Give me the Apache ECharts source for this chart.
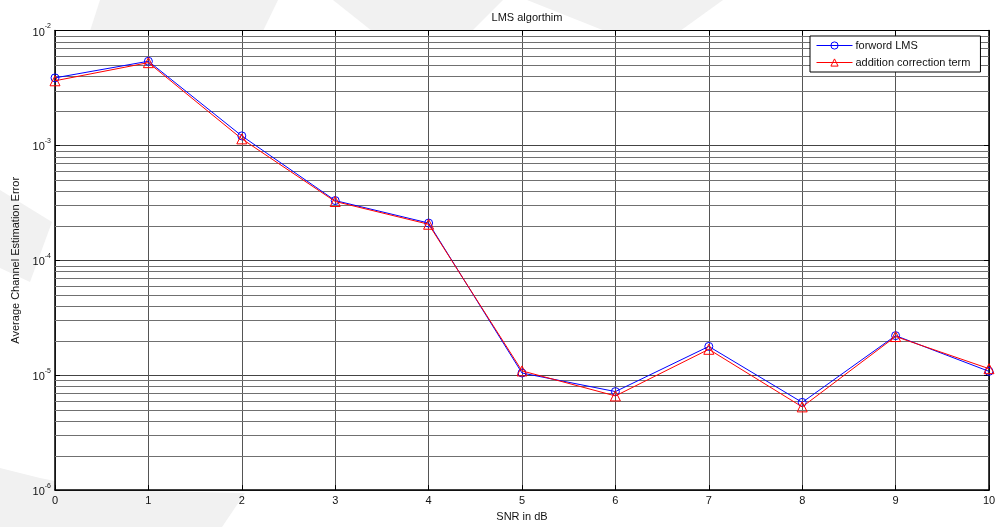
<!DOCTYPE html>
<html>
<head>
<meta charset="utf-8">
<script src="https://cdn.jsdelivr.net/npm/echarts@6/dist/echarts.min.js"></script>
<style>
html,body{margin:0;padding:0;background:#fff;}
#c{width:1003px;height:527px;}
</style>
</head>
<body>
<div id="c"></div>
<script>
// ---- data ----
const snr = [0, 1, 2, 3, 4, 5, 6, 7, 8, 9, 10];
const forwordLMS = [3.87e-3, 5.4e-3, 1.21e-3, 3.31e-4, 2.11e-4, 1.045e-5, 7.2e-6, 1.78e-5, 5.8e-6, 2.21e-5, 1.08e-5];
const additionCorrection = [3.65e-3, 5.25e-3, 1.14e-3, 3.25e-4, 2.06e-4, 1.09e-5, 6.6e-6, 1.68e-5, 5.3e-6, 2.17e-5, 1.14e-5];
const seriesNames = ['forword LMS', 'addition correction term'];
const seriesColors = ['#0000ff', '#ff0000'];
const titleText = 'LMS algorthim';
const xName = 'SNR in dB';
const yName = 'Average Channel Estimation Error';
const yDecades = [-6, -5, -4, -3, -2];
const minorMultipliers = [2, 3, 4, 5, 6, 7, 8, 9];

const FONT = '"Liberation Sans", Arial, Helvetica, sans-serif';
const minorValues = [];
for (let i = 0; i < yDecades.length - 1; i++) {
  for (const m of minorMultipliers) minorValues.push(m * Math.pow(10, yDecades[i]));
}

const chart = echarts.init(document.getElementById('c'), null, {renderer: 'canvas'});
const gray = '#f1f1f1';
const option = {
  backgroundColor: '#fff',
  animation: false,
  textStyle: {fontFamily: FONT},
  title: {
    text: titleText, left: 522, top: 7, textAlign: 'center',
    textStyle: {fontSize: 11, fontWeight: 'normal', color: '#111', fontFamily: FONT}
  },
  graphic: [
    {type: 'polygon', z: -10, silent: true, shape: {points: [[100,0],[278,0],[263,31],[90,31]]}, style: {fill: gray}},
    {type: 'polygon', z: -10, silent: true, shape: {points: [[333,0],[503,0],[472,31],[372,31]]}, style: {fill: gray}},
    {type: 'polygon', z: -10, silent: true, shape: {points: [[527,0],[723,0],[680,31],[605,31]]}, style: {fill: gray}},
    {type: 'polygon', z: -10, silent: true, shape: {points: [[0,190],[52,222],[30,282],[0,268]]}, style: {fill: gray}},
    {type: 'polygon', z: -10, silent: true, shape: {points: [[0,468],[40,478],[100,490],[245,493],[222,527],[0,527]]}, style: {fill: gray}}
  ],
  legend: {
    left: 810, top: 36, orient: 'vertical',
    padding: [4, 10, 4, 6], itemGap: 6,
    itemWidth: 36, itemHeight: 9,
    backgroundColor: '#fff', borderColor: '#000', borderWidth: 1, borderRadius: 0,
    textStyle: {fontSize: 11, color: '#111', fontFamily: FONT, padding: [0,0,0,-2]},
    data: seriesNames.map((n, i) => ({
      name: n,
      itemStyle: {color: 'rgba(255,255,255,0)', borderColor: seriesColors[i], borderWidth: 1},
      lineStyle: {color: seriesColors[i], width: 1}
    }))
  },
  grid: {
    left: 55, right: 14, top: 30.5, bottom: 34,
    show: true, backgroundColor: '#fff', borderWidth: 0, containLabel: false
  },
  xAxis: [{
    type: 'value', min: 0, max: 10, interval: 1, position: 'bottom',
    name: xName, nameLocation: 'middle', nameGap: 18,
    nameTextStyle: {fontSize: 11, color: '#111', fontFamily: FONT},
    axisLine: {show: true, onZero: false, lineStyle: {color: '#000', width: 1.5}},
    axisTick: {show: true, inside: true, length: 5, lineStyle: {color: '#000'}},
    axisLabel: {fontSize: 11, color: '#111', margin: 5, fontFamily: FONT},
    splitLine: {show: true, lineStyle: {color: '#555', width: 1}}
  }, {
    type: 'value', min: 0, max: 10, interval: 1, position: 'top',
    axisLine: {show: true, onZero: false, lineStyle: {color: '#000', width: 1}},
    axisTick: {show: true, inside: true, length: 5, lineStyle: {color: '#000'}},
    axisLabel: {show: false}, splitLine: {show: false}
  }],
  yAxis: [{
    type: 'log', logBase: 10, min: 1e-6, max: 1e-2, position: 'left',
    name: yName, nameLocation: 'middle', nameGap: 33, nameRotate: 90,
    nameTextStyle: {fontSize: 11, color: '#111', fontFamily: FONT},
    axisLine: {show: true, onZero: false, lineStyle: {color: '#000', width: 1.5}},
    axisTick: {show: true, inside: true, length: 5, lineStyle: {color: '#000'}},
    axisLabel: {
      margin: 4, color: '#111',
      formatter: function (v) {
        const e = Math.round(Math.log10(v));
        return '{b|10}{e|' + e + '}';
      },
      rich: {
        b: {fontSize: 11, fontFamily: FONT, color: '#111', verticalAlign: 'bottom'},
        e: {fontSize: 7, fontFamily: FONT, color: '#111', verticalAlign: 'bottom', padding: [0, 0, 8, 0]}
      }
    },
    splitLine: {show: true, lineStyle: {color: '#444', width: 1}}
  }, {
    type: 'log', logBase: 10, min: 1e-6, max: 1e-2, position: 'right',
    axisLine: {show: true, onZero: false, lineStyle: {color: '#000', width: 1.5}},
    axisTick: {show: true, inside: true, length: 5, lineStyle: {color: '#000'}},
    axisLabel: {show: false}, splitLine: {show: false}
  }],
  series: [{
    name: '_minorGrid', type: 'custom', z: 1, silent: true,
    data: minorValues.map(v => [0, v]),
    encode: {x: 0, y: 1},
    renderItem: function (params, api) {
      const v = api.value(1);
      const a = api.coord([0, v]);
      const b = api.coord([10, v]);
      const y = Math.round(a[1]) + 0.5;
      return {type: 'line', shape: {x1: a[0], y1: y, x2: b[0], y2: y},
              style: {stroke: '#707070', lineWidth: 1}};
    }
  }, {
    name: seriesNames[0], type: 'line', z: 3,
    data: snr.map((x, i) => [x, forwordLMS[i]]),
    symbol: 'circle', symbolSize: 8,
    itemStyle: {color: 'rgba(255,255,255,0)', borderColor: seriesColors[0], borderWidth: 1},
    lineStyle: {color: seriesColors[0], width: 1}
  }, {
    name: seriesNames[1], type: 'line', z: 4,
    data: snr.map((x, i) => [x, additionCorrection[i]]),
    symbol: 'triangle', symbolSize: 10,
    itemStyle: {color: 'rgba(255,255,255,0)', borderColor: seriesColors[1], borderWidth: 1},
    lineStyle: {color: seriesColors[1], width: 1}
  }]
};
chart.setOption(option);
</script>
</body>
</html>
